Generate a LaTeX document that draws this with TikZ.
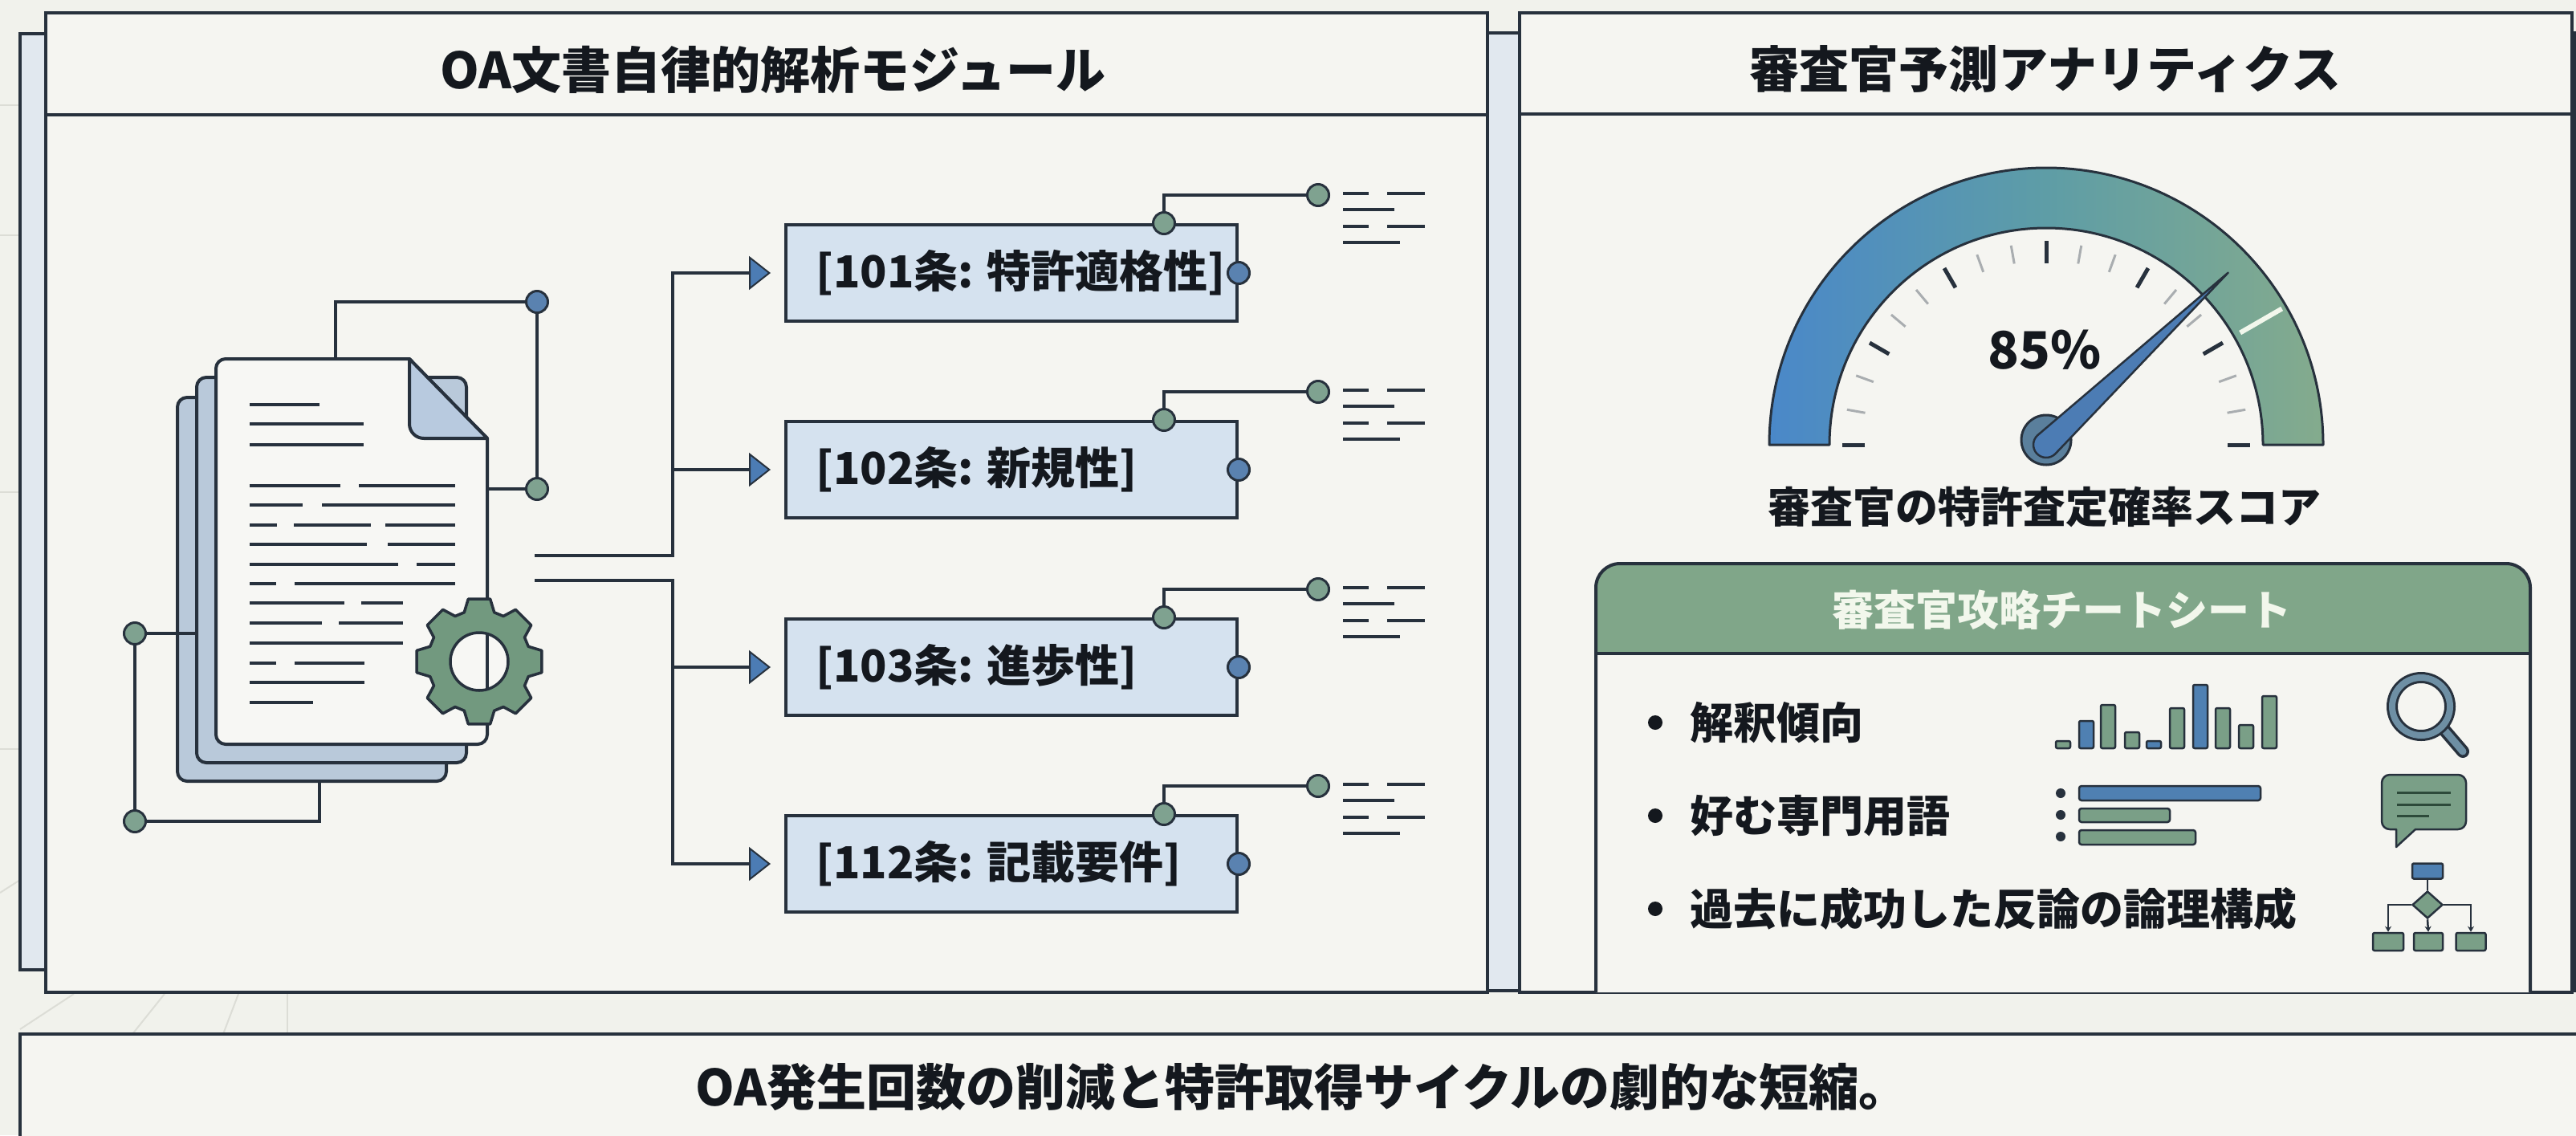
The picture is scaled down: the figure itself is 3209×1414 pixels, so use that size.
\documentclass[tikz,border=0pt]{standalone}
\usepackage{fontspec}
\setmainfont{Noto Sans CJK JP}
\usetikzlibrary{arrows.meta,calc,shapes.geometric}

\definecolor{pagebg}{HTML}{F1F2EC}
\definecolor{panelbg}{HTML}{F5F5F1}
\definecolor{ink}{HTML}{27313D}
\definecolor{txt}{HTML}{14181E}
\definecolor{boxblue}{HTML}{D5E2EF}
\definecolor{stripblue}{HTML}{E1E8EF}
\definecolor{sheetback}{HTML}{B9C9DA}
\definecolor{sheetfront}{HTML}{F7F7F4}
\definecolor{foldblue}{HTML}{B8CADF}
\definecolor{geargreen}{HTML}{72997F}
\definecolor{dotgreen}{HTML}{7FA290}
\definecolor{dotblue}{HTML}{5A82B0}
\definecolor{arrowblue}{HTML}{4C7CB4}
\definecolor{gblue}{HTML}{4A88C9}
\definecolor{gteal}{HTML}{5E9DA6}
\definecolor{ggreen}{HTML}{84AB8D}
\definecolor{hubblue}{HTML}{5A7F9C}
\definecolor{headgreen}{HTML}{80A689}
\definecolor{barblue}{HTML}{4F80B2}
\definecolor{bargreen}{HTML}{7A9F87}
\definecolor{ringblue}{HTML}{6E8FA4}
\definecolor{faint}{HTML}{DCDDD6}
\definecolor{minortick}{HTML}{A9ADB0}
\definecolor{hilite}{HTML}{F2F7EC}
\definecolor{bubbleline}{HTML}{2D4A3A}

\newcommand{\ftsz}[1]{\fontsize{#1}{#1}\selectfont\bfseries}

\begin{document}
\begin{tikzpicture}[x=1pt,y=-1pt,
  panel/.style={draw=ink, line width=4pt, fill=panelbg},
  backpanel/.style={draw=ink, line width=4pt, fill=stripblue},
  faintline/.style={draw=faint, line width=2pt},
  wire/.style={draw=ink, line width=3.5pt},
  docline/.style={draw=ink, line width=4.5pt},
  minline/.style={draw=ink, line width=4.5pt},
  gdot/.style={circle, draw=ink, line width=3pt, fill=dotgreen, minimum size=27pt, inner sep=0pt},
  bdot/.style={gdot, fill=dotblue},
  artbox/.style={rectangle, draw=ink, line width=4pt, fill=boxblue, minimum width=562pt, minimum height=120pt, inner sep=0pt},
  artlabel/.style={anchor=west, text=txt, font=\ftsz{55}, inner sep=0pt},
  titletext/.style={text=txt, font=\ftsz{62}, inner sep=0pt},
  itemtext/.style={anchor=west, text=txt, font=\ftsz{54}, inner sep=0pt},
  bullet/.style={circle, fill=txt, minimum size=18pt, inner sep=0pt},
  arrowstyle/.style={-{Triangle[length=27pt,width=42pt,fill=arrowblue,line width=2pt]}, shorten >=17pt},
  icon/.style={draw=ink, line width=2.5pt},
  tinyarrow/.style={-{Stealth[length=7pt,width=8pt]}}
]
\useasboundingbox (0,0) rectangle (3209,1414);
\clip (0,0) rectangle (3209,1414);
\fill[pagebg] (0,0) rectangle (3209,1414);

% faint guide lines in the margins
\foreach \yy in {131,293,613,933} \draw[faintline] (0,\yy) -- (25,\yy);
\draw[faintline] (0,1112) -- (25,1096);
\draw[faintline] (92,1238) -- (25,1282);
\draw[faintline] (205,1238) -- (165,1288);
\draw[faintline] (297,1238) -- (278,1288);
\draw[faintline] (358,1238) -- (358,1288);

% stacked back panels
\draw[backpanel] (25,42) rectangle (1000,1208);
\draw[backpanel] (1853,41) rectangle (3207,1234);

% ---------------- left panel ----------------
\draw[panel] (57,16) rectangle (1853,1236);
\draw[ink, line width=4pt] (57,143) -- (1853,143);
\node[titletext] (ltitle) at (963,87) {OA文書自律的解析モジュール};

% connection points around the document stack
\coordinate (dA) at (669,376);
\coordinate (dB) at (669,609);
\coordinate (dC) at (168,789);
\coordinate (dD) at (168,1023);
\coordinate (pgtop) at (418,447);
\coordinate (pgright) at (607,609);
\coordinate (pgleft) at (245,789);
\coordinate (pgbot) at (398,973);

\draw[wire] (pgtop) |- (dA);
\draw[wire] (dA) -- (dB);
\draw[wire] (pgright) -- (dB);
\draw[wire] (dD) -| (pgbot);
\draw[wire] (dC) -- (dD);

% document pages
\draw[draw=ink, line width=4pt, fill=sheetback, rounded corners=12pt] (221,495) rectangle (556,973);
\draw[wire] (dC) -- (pgleft);
\draw[draw=ink, line width=4pt, fill=sheetback, rounded corners=12pt] (245,470) rectangle (581,950);
\draw[draw=ink, line width=4pt, fill=sheetfront, line join=round]
  [rounded corners=12pt] (269,700) -- (269,447) [sharp corners] -- (510,447) -- (607,546)
  [rounded corners=12pt] -- (607,927) -- (269,927) -- cycle;
\draw[draw=ink, line width=4pt, fill=foldblue, line join=round]
  (510,447) -- (510,528) to[out=-90,in=180] (528,546) -- (607,546) -- cycle;

% text lines on the front page
\foreach \ya/\xa/\xb in {504/311/398, 528/311/453, 554/311/453,
  605/311/424, 605/447/567, 629/311/377, 629/401/567,
  654/311/345, 654/366/462, 654/480/567, 678/311/457, 678/483/567,
  703/311/496, 703/519/567, 727/311/344, 727/367/567,
  751/311/429, 751/450/502, 776/311/401, 776/422/502,
  801/311/502, 826/311/344, 826/367/454, 850/311/454, 875/311/390}
  \draw[docline] (\xa,\ya) -- (\xb,\ya);

% gear
\begin{scope}[shift={(597,824)}]
  \draw[draw=ink, line width=3.5pt, fill=geargreen, line join=round]
    (-17:64) \foreach \a in {0,45,...,315} { -- (\a-17:64) -- (\a-10:79) -- (\a+10:79) -- (\a+17:64) } -- cycle;
  \draw[draw=ink, line width=3.5pt, fill=sheetfront] (0,0) circle[radius=36];
  \draw[draw=ink, line width=4pt] (10,-35) -- (10,35);
\end{scope}

\node[bdot] (nA) at (dA) {};
\node[gdot] (nB) at (dB) {};
\node[gdot] (nC) at (dC) {};
\node[gdot] (nD) at (dD) {};

% bus toward the statute boxes
\coordinate (busA) at (666,692);
\coordinate (busB) at (666,723);
\coordinate (jA) at (838,692);
\coordinate (jB) at (838,723);

\foreach \i/\cy/\lab in {1/340/{[101条: 特許適格性]}, 2/585/{[102条: 新規性]},
                         3/831/{[103条: 進歩性]}, 4/1076/{[112条: 記載要件]}} {
  \node[artbox] (b\i) at (1260,\cy) {};
  \node[artlabel] (t\i) at ($(b\i.west)+(39,0)$) {\lab};
  \coordinate (u\i) at ($(b\i.north east)+(-93,0)$);
  \coordinate (m\i) at ($(u\i)+(192,-35)$);
  \draw[wire] (u\i) |- (m\i);
  \node[bdot] (r\i) at (b\i.east) {};
  \node[gdot] (k\i) at (u\i) {};
  \node[gdot] (n\i) at (m\i) {};
  \draw[minline] ($(n\i)+(31,-2)$) -- ++(32,0) ($(n\i)+(86,-2)$) -- ++(47,0)
                 ($(n\i)+(31,18)$) -- ++(64,0)
                 ($(n\i)+(31,39)$) -- ++(32,0) ($(n\i)+(86,39)$) -- ++(47,0)
                 ($(n\i)+(31,59)$) -- ++(71,0);
}

\draw[wire, arrowstyle] (busA) -- (jA) |- (b1.west);
\draw[wire, arrowstyle] (jA |- b2.west) -- (b2.west);
\draw[wire, arrowstyle] (busB) -- (jB) |- (b4.west);
\draw[wire, arrowstyle] (jB |- b3.west) -- (b3.west);

% ---------------- right panel ----------------
\draw[panel] (1893,16) rectangle (3204,1236);
\draw[ink, line width=4pt] (1893,142) -- (3204,142);
\node[titletext] (rtitle) at (2548,86) {審査官予測アナリティクス};

% gauge
\begin{scope}[shift={(2549,554)}, yscale=-1]
  \shade[left color=gblue, right color=ggreen, middle color=gteal]
    (-345,0) arc[start angle=180, end angle=0, radius=345] -- (270,0)
    arc[start angle=0, end angle=180, radius=270] -- cycle;
  \draw[draw=ink, line width=3pt, line join=round]
    (-345,0) arc[start angle=180, end angle=0, radius=345] -- (270,0)
    arc[start angle=0, end angle=180, radius=270] -- cycle;
  \draw[draw=hilite, line width=6pt] (30:279) -- (30:339);
  \foreach \a in {10,20,40,50,70,80,100,110,130,140,160,170}
    \draw[draw=minortick, line width=3pt] (\a:229) -- (\a:252);
  \foreach \a in {0,30,...,180}
    \draw[draw=ink, line width=5pt] (\a:226) -- (\a:254);
  \draw[draw=ink, line width=3pt, fill=hubblue] (0,6) circle[radius=31];
  \draw[draw=ink, line width=2.5pt, fill=arrowblue, line join=round]
    (133.4:16) -- (43.4:312) -- (-46.6:16)
    arc[start angle=-46.6, end angle=-226.6, radius=16] -- cycle;
\end{scope}
\node[text=txt, font=\ftsz{64}, inner sep=0pt] (pct) at (2547,436) {85\%};
\node[text=txt, font=\ftsz{53}, inner sep=0pt] (glabel) at (2547,631) {審査官の特許査定確率スコア};

% cheat sheet
\fill[panelbg] (1988,1236) [rounded corners=30pt] -- (1988,702) -- (3152,702) [sharp corners] -- (3152,1236) -- cycle;
\fill[headgreen] (1988,814) [rounded corners=30pt] -- (1988,702) -- (3152,702) [sharp corners] -- (3152,814) -- cycle;
\draw[draw=ink, line width=4pt] (1988,1236) [rounded corners=30pt] -- (1988,702) -- (3152,702) [sharp corners] -- (3152,1236);
\draw[draw=ink, line width=4pt] (1988,814) -- (3152,814);
\node[text=hilite, font=\ftsz{52}, inner sep=0pt] (stitle) at (2568,760) {審査官攻略チートシート};

\node[bullet] (p1) at (2062,900) {};
\node[bullet] (p2) at (2062,1016) {};
\node[bullet] (p3) at (2062,1132) {};
\node[itemtext] (i1) at (2105,900) {解釈傾向};
\node[itemtext] (i2) at (2105,1016) {好む専門用語};
\node[itemtext] (i3) at (2105,1132) {過去に成功した反論の論理構成};

% bar chart
\foreach \xx/\tt/\cc in {2561/923/bargreen, 2590/898/barblue, 2617/878/bargreen,
  2647/912/bargreen, 2674/923/barblue, 2703/882/bargreen, 2732/853/barblue,
  2760/882/bargreen, 2789/903/bargreen, 2818/867/bargreen}
  \draw[icon, fill=\cc, rounded corners=2pt] (\xx,\tt) rectangle (\xx+18,932);

% ranked terms
\foreach \yy in {988,1015,1042} \fill[ink] (2567,\yy) circle[radius=6];
\draw[icon, fill=barblue, rounded corners=3pt] (2590,979) rectangle (2816,997);
\draw[icon, fill=bargreen, rounded corners=3pt] (2590,1007) rectangle (2703,1024);
\draw[icon, fill=bargreen, rounded corners=3pt] (2590,1034) rectangle (2735,1052);

% magnifier
\draw[draw=ink, line width=16pt, line cap=round] (3044,908) -- (3068,936);
\draw[draw=ringblue, line width=9pt, line cap=round] (3044,908) -- (3068,936);
\draw[draw=ink, line width=14pt] (3016,880) circle[radius=36];
\draw[draw=ringblue, line width=8pt] (3016,880) circle[radius=36];

% speech bubble
\draw[icon, fill=bargreen, line join=round]
  (2985,1033) [rounded corners=10pt] -- (2967,1033) -- (2967,965) -- (3072,965) -- (3072,1033)
  [sharp corners] -- (3009,1033) -- (2985,1055) -- cycle;
\draw[draw=bubbleline, line width=3pt] (2986,987) -- (3053,987) (2986,1002) -- (3053,1002) (2986,1016) -- (3026,1016);

% decision tree
\node[icon, fill=barblue, rectangle, rounded corners=2pt, minimum width=38pt, minimum height=19pt, inner sep=0pt] (ft) at (3024,1085) {};
\node[icon, fill=bargreen, diamond, minimum width=38pt, minimum height=34pt, inner sep=0pt, shape aspect=1.1] (fd) at (3024,1127) {};
\node[icon, fill=bargreen, rectangle, rounded corners=2pt, minimum width=38pt, minimum height=22pt, inner sep=0pt] (f1) at (2975,1173) {};
\node[icon, fill=bargreen, rectangle, rounded corners=2pt, minimum width=36pt, minimum height=22pt, inner sep=0pt] (f2) at (3025,1173) {};
\node[icon, fill=bargreen, rectangle, rounded corners=2pt, minimum width=37pt, minimum height=22pt, inner sep=0pt] (f3) at (3078,1173) {};
\draw[icon] (ft) -- (fd);
\draw[icon, tinyarrow] (fd.west) -| (f1.north);
\draw[icon, tinyarrow] (fd.east) -| (f3.north);
\draw[icon, tinyarrow] (fd.south) -- (f2.north);

% ---------------- bottom banner ----------------
\draw[panel] (25,1288) rectangle (3240,1440);
\node[titletext] (banner) at (1622,1354) {OA発生回数の削減と特許取得サイクルの劇的な短縮。};

\end{tikzpicture}
\end{document}
